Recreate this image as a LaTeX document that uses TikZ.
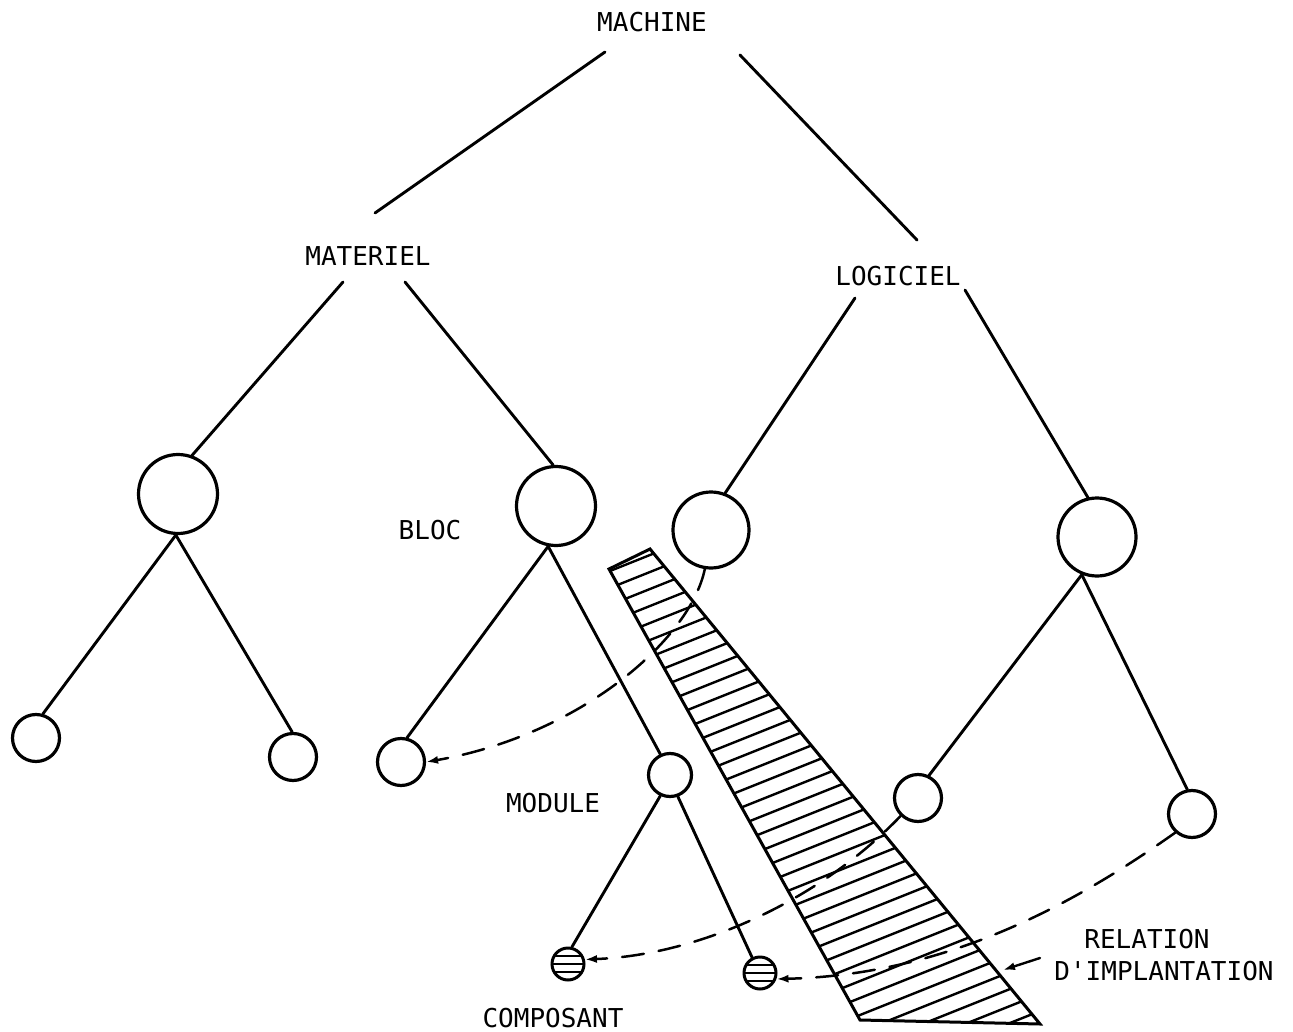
\documentclass[tikz,border=0pt]{standalone}
\usepackage{fontspec}
\newfontfamily\labfont{DejaVu Sans Mono}
\usetikzlibrary{calc,arrows.meta}
\begin{document}
\begin{tikzpicture}[x=1pt,y=-1pt,line width=2.9pt,line cap=round,
  lab/.style={font=\labfont\fontsize{26}{30}\selectfont,inner sep=0pt},
  bigc/.style={circle,draw,line width=3.2pt,minimum size=#1,inner sep=0pt},
  hcirc/.style={circle,draw,line width=3pt,minimum size=32pt,inner sep=0pt,
    path picture={
      \foreach \o in {-8,0,8}{
        \draw[line width=2.6pt] ([yshift=\o pt]path picture bounding box.west) -- ([yshift=\o pt]path picture bounding box.east);}
    }},
  dsh/.style={line width=2.5pt,dash pattern=on 22pt off 15pt,-{Latex[length=12pt,width=8pt]}},
  tip/.style={-{Latex[length=12pt,width=8pt]}}
]
\useasboundingbox (0,0) rectangle (1293,1032);

% labels
\node[lab] (mach) at (652,22) {MACHINE};
\node[lab] (mat) at (368,256) {MATERIEL};
\node[lab] (log) at (898,276) {LOGICIEL};
\node[lab] (bloc) at (430,530) {BLOC};
\node[lab] (modl) at (553,803) {MODULE};
\node[lab] (comp) at (553,1018) {COMPOSANT};
\node[lab] (rel1) at (1147,939) {RELATION};
\node[lab] (rel2) at (1164,971) {D'IMPLANTATION};

% circles
\node[bigc=79pt] (b1) at (178,494) {};
\node[bigc=79pt] (b2) at (556,506) {};
\node[bigc=76pt] (b3) at (711,530) {};
\node[bigc=78pt] (b4) at (1097,537) {};
\node[bigc=47pt] (s1) at (36,738) {};
\node[bigc=47pt] (s2) at (293,757) {};
\node[bigc=47pt] (s3) at (401,762) {};
\node[bigc=43pt] (md) at (670,775) {};
\node[bigc=47pt] (s5) at (918,798) {};
\node[bigc=47pt] (s6) at (1192,814) {};
\node[hcirc] (h1) at (568,964) {};
\node[hcirc] (h2) at (760,973) {};

% tree lines
\draw ($(mach)+(-47,30)$) -- ($(mat)+(7,-43)$);
\draw ($(mach)+(88,33)$) -- ($(log)+(19,-36)$);
\draw ($(mat)+(-25,26)$) -- (b1.70);
\draw ($(mat)+(37,26)$) -- (b2.94);
\draw ($(log)+(-43,22)$) -- (b3.69);
\draw ($(log)+(67,14)$) -- (b4.103);
\draw (b1.267) -- (s1.74);
\draw (b1.267) -- (s2.92);
\draw (b2.259) -- (s3.76);
\draw (b2.259) -- (md.115);
\draw (b4.248) -- (s5.64);
\draw (b4.248) -- (s6.101);
\draw (md.245) -- (h1.77);
\draw (md.290) -- (h2.117);

% hatched band
\begin{scope}
  \clip (609,569) -- (650,549) -- (1040,1024) -- (860,1020) -- cycle;
  \foreach \c in {562,579,...,1250}{
    \draw[line width=2.4pt] (590,\c) -- (1060,\c-188);
  }
\end{scope}
\draw[line width=3pt,line join=miter] (609,569) -- (650,549) -- (1040,1024) -- (860,1020) -- cycle;

% implantation relations
\draw[dsh] (b3.261) .. controls (690,640) and (580,735) .. (s3.east);
\draw[dsh] (s5.226) .. controls (820,900) and (700,955) .. (h1.15);
\draw[dsh] (s6.228) .. controls (1080,900) and (950,975) .. (h2.-20);

\coordinate (bandedge) at (1003,970);
\draw[tip,line width=2.4pt] ($(rel2.west)+(-13,-13)$) -- (bandedge);
\end{tikzpicture}
\end{document}
